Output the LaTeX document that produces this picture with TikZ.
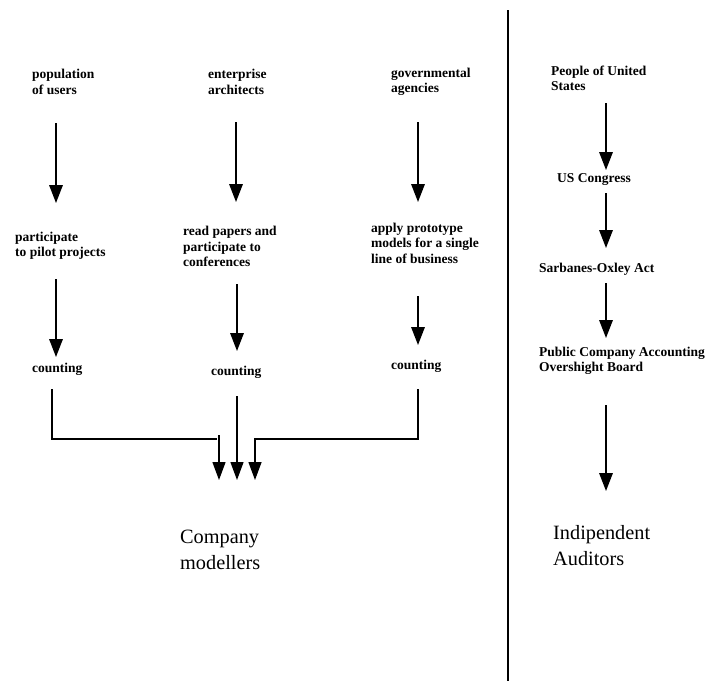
\documentclass[tikz,border=0pt]{standalone}
\usepackage{fontspec}
\setmainfont{Liberation Serif}
\usetikzlibrary{arrows.meta}
\begin{document}
\begin{tikzpicture}[x=1pt,y=-1pt,
  lbl/.style={anchor=west,inner sep=0pt,align=left,font=\fontsize{13.5}{15.5}\selectfont\bfseries},
  big/.style={anchor=west,inner sep=0pt,align=left,font=\fontsize{20.3}{26}\selectfont},
  arr/.style={line width=1.7pt,-{Triangle[length=18pt,width=13.5pt]}},
  ln/.style={line width=1.3pt},
  arrthin/.style={line width=1.3pt,-{Triangle[length=18pt,width=13pt]}}]
\useasboundingbox (0,0) rectangle (706,681);
% divider
\coordinate (dtop) at (508,10);
\coordinate (dbot) at (508,681);
\draw[line width=1.4pt] (dtop) -- (dbot);
% left column texts
\node[lbl] (pop) at (32,82) {population\\of users};
\node[lbl] (ent) at (208,82) {enterprise\\architects};
\node[lbl] (gov) at (391,82) {governmental\\agencies};
\node[lbl] (part) at (15,245.5) {participate\\to pilot projects};
\node[lbl] (read) at (183,246.5) {read papers and\\participate to\\conferences};
\node[lbl] (apply) at (371,243) {apply prototype\\models for a single\\line of business};
\node[lbl] (c1) at (32,369) {counting};
\node[lbl] (c2) at (211,372) {counting};
\node[lbl] (c3) at (391,366) {counting};
\node[big] (cm) at (180,550) {Company\\modellers};
% right column texts
\node[lbl] (people) at (551,78.5) {People of United\\States};
\node[lbl] (cong) at (557,180) {US Congress};
\node[lbl] (sox) at (539,269) {Sarbanes-Oxley Act};
\node[lbl] (pcaob) at (539,361) {Public Company Accounting\\Overshight Board};
\node[big] (ia) at (553,545.5) {Indipendent\\Auditors};
% arrow coordinates
\coordinate (a1s) at (56,123);  \coordinate (a1e) at (56,203);
\coordinate (a2s) at (236,122); \coordinate (a2e) at (236,202);
\coordinate (a3s) at (418,122); \coordinate (a3e) at (418,202);
\coordinate (b1s) at (56,279);  \coordinate (b1e) at (56,357);
\coordinate (b2s) at (237,284); \coordinate (b2e) at (237,351);
\coordinate (b3s) at (418,296); \coordinate (b3e) at (418,345);
\coordinate (r1s) at (606,103); \coordinate (r1e) at (606,170);
\coordinate (r2s) at (606,193); \coordinate (r2e) at (606,248);
\coordinate (r3s) at (606,283); \coordinate (r3e) at (606,338);
\coordinate (r4s) at (606,405); \coordinate (r4e) at (606,491);
\draw[arr] (a1s) -- (a1e);
\draw[arr] (a2s) -- (a2e);
\draw[arr] (a3s) -- (a3e);
\draw[arr] (b1s) -- (b1e);
\draw[arr] (b2s) -- (b2e);
\draw[arr] (b3s) -- (b3e);
\draw[arr] (r1s) -- (r1e);
\draw[arr] (r2s) -- (r2e);
\draw[arr] (r3s) -- (r3e);
\draw[arr] (r4s) -- (r4e);
% merge
\coordinate (m1s) at (52,389);  \coordinate (m1c) at (52,439); \coordinate (m1e) at (217,439);
\coordinate (m1as) at (219,435); \coordinate (m1ae) at (219,480);
\coordinate (m2s) at (237,396); \coordinate (m2e) at (237,480);
\coordinate (m3s) at (418,389); \coordinate (m3c) at (418,439); \coordinate (m3d) at (255,439); \coordinate (m3e) at (255,480);
\draw[ln] (m1s) -- (m1c) -- (m1e);
\draw[arrthin] (m1as) -- (m1ae);
\draw[arrthin] (m2s) -- (m2e);
\draw[arrthin] (m3s) -- (m3c) -- (m3d) -- (m3e);
\end{tikzpicture}
\end{document}
